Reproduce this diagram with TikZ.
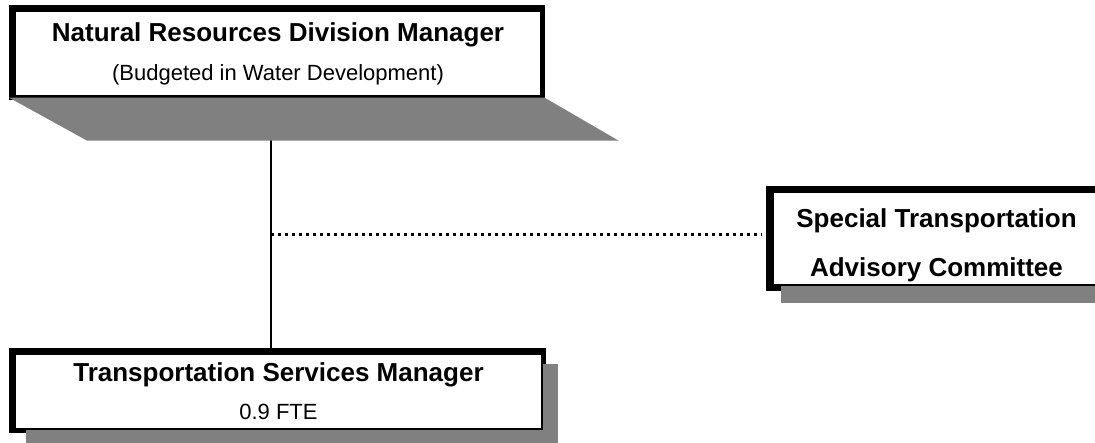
\documentclass[tikz,border=0pt]{standalone}
\usepackage{fontspec}
\setmainfont{Liberation Sans}
\usetikzlibrary{calc,backgrounds}
\def\subline#1{\fontsize{22}{#1}\selectfont\mdseries}

\tikzset{
  orgbox/.style={draw, fill=white, line width=1.5pt, inner sep=0pt, align=center},
  headfont/.style={font=\fontsize{26}{#1}\selectfont\bfseries},
  trunkline/.style={line width=2.2pt},
  dotline/.style={line width=3pt, dash pattern=on 3pt off 4pt},
}

\begin{document}
\begin{tikzpicture}[x=1pt, y=-1pt]
		%%%%% START %%%%%
		\useasboundingbox (0,0) rectangle (1095,443);
		
		\node[orgbox, headfont=39, minimum width=526, minimum height=85] (ndm) at (278, 53.5)
			{Natural Resources Division Manager\\ \subline{39}(Budgeted in Water Development)};
		\node[orgbox, headfont=38, minimum width=527, minimum height=75] (tsm) at (278.5, 391.5)
			{Transportation Services Manager\\ \subline{38}0.9 FTE};
		\node[orgbox, headfont=49, minimum width=327, minimum height=93] (stac) at (936.5, 238.5)
			{\rule{0pt}{32pt}Special Transportation\\ Advisory Committee};
		
		\coordinate (trunk) at (271, 0);
		\coordinate (dotend) at (762, 235);
		
		\begin{pgfonlayer}{background}
			\draw[trunkline] (trunk |- ndm.south) -- (trunk |- tsm.north);
			\draw[dotline] (trunk |- dotend) -- (dotend);
			
			\fill[black] ($(ndm.north west)+(-5,-5)$) rectangle ($(ndm.south east)+(3,3)$);
			\fill[black] ($(tsm.north west)+(-5,-5)$) rectangle ($(tsm.south east)+(3,3)$);
			\fill[black] ($(stac.north west)+(-6,-5)$) rectangle ($(stac.south east)+(3,5)$);
			
			\fill[black!50] ($(ndm.south west)+(-5,1)$) -- ($(ndm.south east)+(3,1)$) -- ++(74,43) -- ($(ndm.south west)+(73,44)$) -- cycle;
			\fill[black!50] ($(tsm.north west)+(12,11)$) rectangle ($(tsm.south east)+(15,13)$);
			\fill[black!50] ($(stac.north west)+(9,15)$) rectangle ($(stac.south east)+(10,17)$);
		\end{pgfonlayer}
		
		%%%%% END %%%%%
	\end{tikzpicture}
\end{document}
